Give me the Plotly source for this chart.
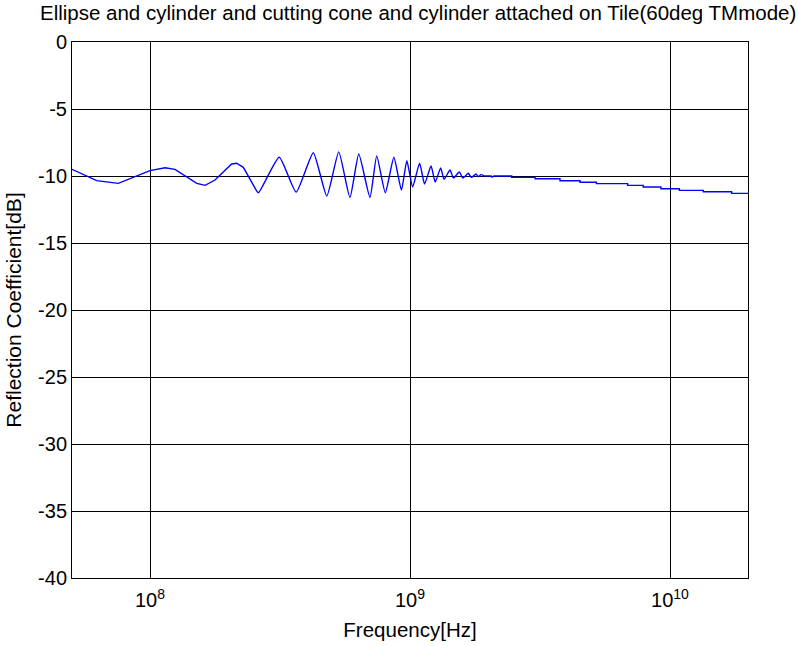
import plotly.graph_objects as go

# log10(frequency in Hz) and reflection coefficient in dB
low_logf = [7.700, 7.795, 7.878, 8.000, 8.058, 8.096, 8.180, 8.212, 8.250, 8.314,
            8.333, 8.359, 8.404]
low_db = [-9.50, -10.35, -10.55, -9.60, -9.38, -9.50, -10.55, -10.70, -10.30, -9.10,
          -9.05, -9.35, -10.90]

osc_logf = [8.404, 8.417, 8.497, 8.562, 8.628, 8.680, 8.726, 8.769,
            8.803, 8.846, 8.872, 8.905, 8.938, 8.967, 8.988, 9.010, 9.037, 9.056,
            9.081, 9.097, 9.118, 9.131, 9.154, 9.167, 9.190, 9.203, 9.224, 9.236,
            9.254, 9.262, 9.273, 9.285]
osc_db = [-10.90, -11.25, -8.60, -11.20, -8.26, -11.50, -8.20, -11.60,
          -8.36, -11.60, -8.50, -11.25, -8.60, -11.05, -8.86, -10.82, -9.05, -10.60,
          -9.25, -10.45, -9.40, -10.25, -9.55, -10.15, -9.70, -10.15, -9.80, -10.10,
          -9.85, -10.05, -9.90, -10.00]

tail_logf = [9.285, 9.312, 9.316, 9.323, 9.391, 9.391, 9.481, 9.481, 9.577, 9.577,
             9.654, 9.654, 9.717, 9.717, 9.837, 9.837, 9.897, 9.897, 9.965, 9.965,
             10.036, 10.036, 10.128, 10.128, 10.237, 10.237, 10.300]
tail_db = [-10.00, -10.00, -10.08, -10.00, -10.00, -10.10, -10.10, -10.20, -10.20, -10.35,
           -10.35, -10.47, -10.47, -10.57, -10.57, -10.70, -10.70, -10.82, -10.82, -10.95,
           -10.95, -11.07, -11.07, -11.17, -11.17, -11.30, -11.30]

x_tickvals = [1e8, 1e9, 1e10]
x_ticktext = ["10<sup>8</sup>", "10<sup>9</sup>", "10<sup>10</sup>"]
y_tickvals = [0, -5, -10, -15, -20, -25, -30, -35, -40]
y_ticktext = ["0", "-5", "-10", "-15", "-20", "-25", "-30", "-35", "-40"]

fig = go.Figure()
for lf, db, shape in [(low_logf, low_db, "linear"),
                      (osc_logf, osc_db, "spline"),
                      (tail_logf, tail_db, "linear")]:
    line = dict(color="#0000ff", width=1.4, shape=shape)
    if shape == "spline":
        line["smoothing"] = 0.5
    fig.add_trace(go.Scatter(x=[10 ** v for v in lf], y=db, mode="lines",
                             line=line, showlegend=False, hoverinfo="x+y"))

font = "Liberation Sans, Arial, sans-serif"
fig.update_layout(
    width=798, height=646,
    margin=dict(l=72, r=50, t=42, b=68),
    paper_bgcolor="white", plot_bgcolor="white",
    font=dict(family=font, size=20, color="black"),
    title=dict(text="Ellipse and cylinder and cutting cone and cylinder attached on Tile(60deg TMmode)",
               x=0.524, xref="container", xanchor="center",
               y=1 - 6 / 646, yref="container", yanchor="top",
               font=dict(family=font, size=20.5, color="black")),
    xaxis=dict(type="log", range=[7.7, 10.3], tickvals=x_tickvals, ticktext=x_ticktext,
               showgrid=True, gridcolor="black", gridwidth=1,
               showline=True, linecolor="black", linewidth=1, mirror=True,
               ticks="", zeroline=False, ticklabelstandoff=4, automargin=False,
               title=dict(text="Frequency[Hz]", standoff=12, font=dict(size=20.5)),
               tickfont=dict(size=20)),
    yaxis=dict(range=[-40, 0], tickvals=y_tickvals, ticktext=y_ticktext,
               showgrid=True, gridcolor="black", gridwidth=1,
               showline=True, linecolor="black", linewidth=1, mirror=True,
               ticks="", zeroline=False, automargin=False,
               title=dict(text="Reflection Coefficient[dB]", standoff=10, font=dict(size=21)),
               tickfont=dict(size=20)),
)

fig.write_html("out.html")
